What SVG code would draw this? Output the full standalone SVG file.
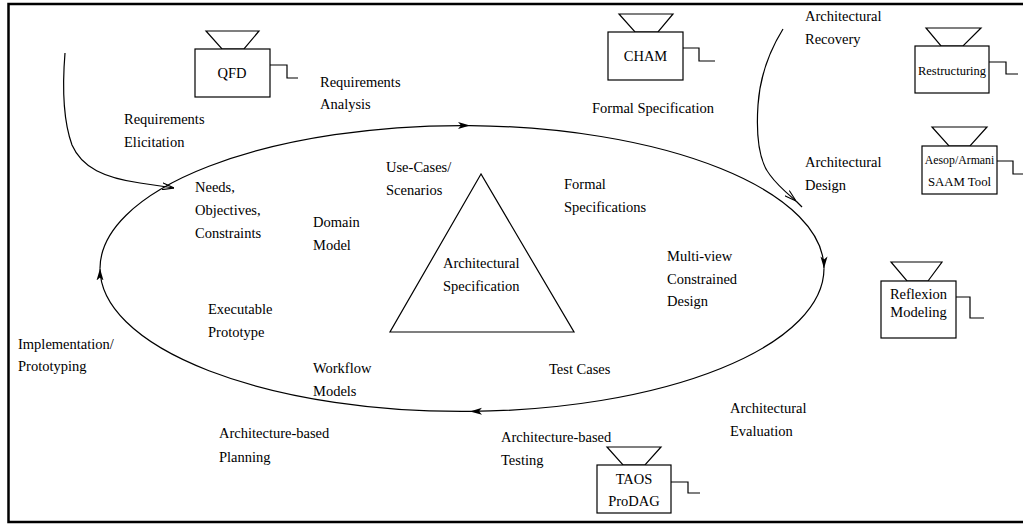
<svg xmlns="http://www.w3.org/2000/svg" width="1023" height="525" viewBox="0 0 1023 525">
<style>
text{font-family:"Liberation Serif","Times New Roman",serif;font-size:14.5px;fill:#000}
.sm{font-size:12.5px}
.ln{fill:none;stroke:#000;stroke-width:1.2}
.box{fill:#fff;stroke:#000;stroke-width:1.2}
.mid{text-anchor:middle}
</style>
<defs>
<marker id="ah" viewBox="0 0 12 8" refX="12" refY="4" markerWidth="12" markerHeight="8" markerUnits="userSpaceOnUse" orient="auto">
<path d="M0,0.5 L12,4 L0,7.5 L3,4 Z" fill="#000"/>
</marker>
<marker id="oa" viewBox="0 0 12 8" refX="12" refY="4" markerWidth="12" markerHeight="8" markerUnits="userSpaceOnUse" orient="auto">
<path d="M0,0.5 L12,4 L0,7.5" fill="none" stroke="#000" stroke-width="1.1"/>
</marker>
</defs>
<rect x="8.5" y="4" width="1020" height="518" fill="#fff" stroke="#000" stroke-width="2.5"/>

<g id="connectors">
<path class="ln" d="M100,268.5 A362,143 0 0 1 470,125.6" marker-end="url(#ah)"/>
<path class="ln" d="M470,125.6 A362,143 0 0 1 824,268.5" marker-end="url(#ah)"/>
<path class="ln" d="M824,268.5 A362,143 0 0 1 470,411.4" marker-end="url(#ah)"/>
<path class="ln" d="M470,411.4 A362,143 0 0 1 100,268.5" marker-end="url(#ah)"/>
<path class="ln" d="M65,53 C62,90 63,120 72,145 C82,168 105,178 140,183 L174,188" marker-end="url(#oa)"/>
<path class="ln" d="M783,29 C770,50 760,75 758,105 C756,135 758,160 770,175 C778,186 788,194 796,201" marker-end="url(#oa)"/>
<path class="ln" d="M796,201 L802,207"/>
</g>

<g id="triangle">
<polygon class="ln" points="481,174 390,332 574,332"/>
<text x="443" y="268">Architectural</text>
<text x="443" y="291">Specification</text>
</g>

<g id="qfd">
<polygon class="ln" points="206,31 259,31 244,49 222,49"/>
<rect class="box" x="195" y="49" width="75" height="48"/>
<polyline class="ln" points="270,65 287,65 287,78 298,78"/>
<text x="232" y="78" class="mid">QFD</text>
</g>

<g id="cham">
<polygon class="ln" points="619,14 673,14 658,32 635,32"/>
<rect class="box" x="608" y="32" width="75" height="48"/>
<polyline class="ln" points="683,48 699,48 699,61 715,61"/>
<text x="645.5" y="61" class="mid">CHAM</text>
</g>

<g id="restructuring">
<polygon class="ln" points="926,28 981,28 963,46 941,46"/>
<rect class="box" x="915" y="46" width="74" height="47"/>
<polyline class="ln" points="989,62 1006,62 1006,74 1018,74"/>
<text x="952" y="75" class="mid sm">Restructuring</text>
</g>

<g id="aesop">
<polygon class="ln" points="932,127 987,127 970,146 949,146"/>
<rect class="box" x="922" y="146" width="75" height="48"/>
<polyline class="ln" points="997,161 1013,161 1013,174 1023,174"/>
<text x="959.5" y="164" class="mid" style="font-size:11.8px">Aesop/Armani</text>
<text x="959.5" y="186" class="mid" style="font-size:12.8px">SAAM Tool</text>
</g>

<g id="reflexion">
<polygon class="ln" points="891,262 942,262 928,281 907,281"/>
<rect class="box" x="881" y="281" width="75" height="57"/>
<polyline class="ln" points="956,297 970,297 970,318 984,318"/>
<text x="918.5" y="299" class="mid">Reflexion</text>
<text x="918.5" y="317" class="mid">Modeling</text>
</g>

<g id="taos">
<polygon class="ln" points="607,447 661,447 645,465 623,465"/>
<rect class="box" x="597" y="465" width="74" height="48"/>
<polyline class="ln" points="671,482 688,482 688,493 700,493"/>
<text x="634" y="484" class="mid">TAOS</text>
<text x="634" y="506" class="mid">ProDAG</text>
</g>

<g id="labels">
<text x="124" y="124">Requirements</text>
<text x="124" y="147">Elicitation</text>
<text x="320" y="87">Requirements</text>
<text x="320" y="109">Analysis</text>
<text x="592" y="113">Formal Specification</text>
<text x="805" y="21">Architectural</text>
<text x="805" y="44">Recovery</text>
<text x="805" y="167">Architectural</text>
<text x="805" y="190">Design</text>
<text x="386" y="172">Use-Cases/</text>
<text x="386" y="195">Scenarios</text>
<text x="195" y="192">Needs,</text>
<text x="195" y="215">Objectives,</text>
<text x="195" y="238">Constraints</text>
<text x="313" y="227">Domain</text>
<text x="313" y="250">Model</text>
<text x="564" y="189">Formal</text>
<text x="564" y="212">Specifications</text>
<text x="667" y="261">Multi-view</text>
<text x="667" y="284">Constrained</text>
<text x="667" y="306">Design</text>
<text x="208" y="314">Executable</text>
<text x="208" y="337">Prototype</text>
<text x="18" y="349">Implementation/</text>
<text x="18" y="371">Prototyping</text>
<text x="313" y="373">Workflow</text>
<text x="313" y="396">Models</text>
<text x="549" y="374">Test Cases</text>
<text x="730" y="413">Architectural</text>
<text x="730" y="436">Evaluation</text>
<text x="219" y="438">Architecture-based</text>
<text x="219" y="462">Planning</text>
<text x="501" y="442">Architecture-based</text>
<text x="501" y="465">Testing</text>
</g>
</svg>
